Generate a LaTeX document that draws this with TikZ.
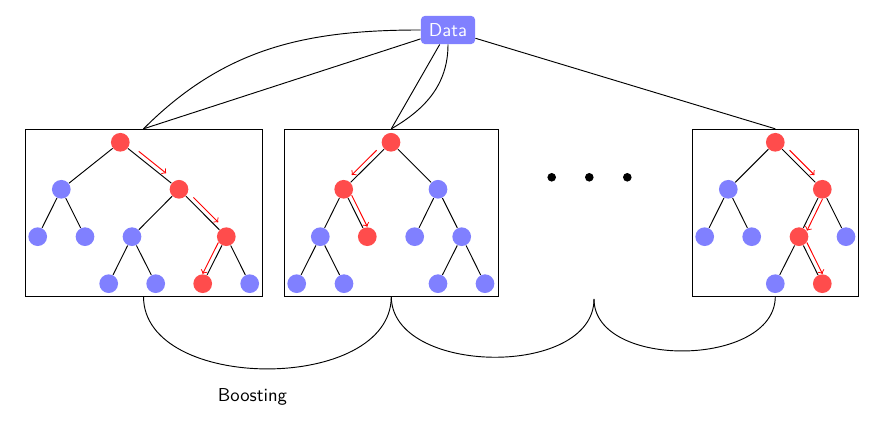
\documentclass[tikz,border=0pt]{standalone}
\usetikzlibrary{calc,fit}
\begin{document}
\begin{tikzpicture}[x=0.535pt,y=0.535pt,line width=0.5pt,
  bn/.style={circle,fill=blue!50,inner sep=0pt,minimum size=10pt},
  rn/.style={circle,fill=red!70,inner sep=0pt,minimum size=10pt},
  dotn/.style={circle,fill=black,inner sep=0pt,minimum size=4.6pt},
  treebox/.style={draw,rectangle,inner sep=0pt},
  redarrow/.style={->,red,line width=0.5pt},
  datanode/.style={rectangle,rounded corners=2pt,fill=blue!50,text=white,font=\sffamily,minimum width=28.9pt,minimum height=15pt,inner sep=0pt}]
\useasboundingbox (0,0) rectangle (895,424);
\newcommand\redarr[3]{\draw[redarrow] ($(#1)!.5!(#2)!9.4pt!(#1) + (#1)!2.4pt!#3:(#2) - (#1)$) -- ($(#1)!.5!(#2)!9.4pt!(#2) + (#1)!2.4pt!#3:(#2) - (#1)$);}
% boxes
\coordinate (b1sw) at (25,128); \coordinate (b1ne) at (262,294.7);
\coordinate (b2sw) at (284.3,128); \coordinate (b2ne) at (498.3,294.7);
\coordinate (b3sw) at (692.3,128); \coordinate (b3ne) at (858.3,294.7);
\node[treebox,fit=(b1sw)(b1ne)] (box1) {};
\node[treebox,fit=(b2sw)(b2ne)] (box2) {};
\node[treebox,fit=(b3sw)(b3ne)] (box3) {};
% data
\node[datanode] (data) at (448,394) {Data};
% tree 1
\node[rn] (t1r) at (120.3,281.7) {};
\node[bn] (t1a) at (61.3,234.7) {};
\node[rn] (t1b) at (179,234.7) {};
\node[bn] (t1aa) at (37.7,187.3) {};
\node[bn] (t1ab) at (85,187.3) {};
\node[bn] (t1ba) at (132,187.3) {};
\node[rn] (t1bb) at (226.3,187.3) {};
\node[bn] (t1baa) at (108.7,140.3) {};
\node[bn] (t1bab) at (155.7,140.3) {};
\node[rn] (t1bba) at (202.7,140.3) {};
\node[bn] (t1bbb) at (249.7,140.3) {};
\draw (t1r)--(t1a) (t1r)--(t1b) (t1a)--(t1aa) (t1a)--(t1ab) (t1b)--(t1ba) (t1b)--(t1bb)
      (t1ba)--(t1baa) (t1ba)--(t1bab) (t1bb)--(t1bba) (t1bb)--(t1bbb);
\redarr{t1r}{t1b}{90}
\redarr{t1b}{t1bb}{90}
\redarr{t1bb}{t1bba}{-90}
% tree 2
\node[rn] (t2r) at (391,281.7) {};
\node[rn] (t2a) at (343.7,234.7) {};
\node[bn] (t2b) at (438,234.7) {};
\node[bn] (t2aa) at (320.3,187.3) {};
\node[rn] (t2ab) at (367.3,187.3) {};
\node[bn] (t2ba) at (414.7,187.3) {};
\node[bn] (t2bb) at (461.7,187.3) {};
\node[bn] (t2aaa) at (296.7,140.3) {};
\node[bn] (t2aab) at (344,140.3) {};
\node[bn] (t2bba) at (438,140.3) {};
\node[bn] (t2bbb) at (485,140.3) {};
\draw (t2r)--(t2a) (t2r)--(t2b) (t2a)--(t2aa) (t2a)--(t2ab) (t2b)--(t2ba) (t2b)--(t2bb)
      (t2aa)--(t2aaa) (t2aa)--(t2aab) (t2bb)--(t2bba) (t2bb)--(t2bbb);
\redarr{t2r}{t2a}{-90}
\redarr{t2a}{t2ab}{90}
% tree 3
\node[rn] (t3r) at (775.3,281.7) {};
\node[bn] (t3a) at (728.3,234.7) {};
\node[rn] (t3b) at (822.3,234.7) {};
\node[bn] (t3aa) at (704.7,187.3) {};
\node[bn] (t3ab) at (751.7,187.3) {};
\node[rn] (t3ba) at (799,187.3) {};
\node[bn] (t3bb) at (846,187.3) {};
\node[bn] (t3baa) at (775.3,140.3) {};
\node[rn] (t3bab) at (822.3,140.3) {};
\draw (t3r)--(t3a) (t3r)--(t3b) (t3a)--(t3aa) (t3a)--(t3ab) (t3b)--(t3ba) (t3b)--(t3bb)
      (t3ba)--(t3baa) (t3ba)--(t3bab);
\redarr{t3r}{t3b}{90}
\redarr{t3b}{t3ba}{90}
\redarr{t3ba}{t3bab}{90}
% dots
\node[dotn] (d1) at (551.7,246.7) {};
\node[dotn] (d2) at (589.3,246.7) {};
\node[dotn] (d3) at (627.3,246.7) {};
\coordinate (j) at (594,125);
% data connectors
\draw (box1.north) to[out=45,in=180] (data.west);
\draw (box1.north) -- (data);
\draw (box2.north) -- (data);
\draw (box2.north) to[out=30,in=-90] (data.south);
\draw (data) -- (box3.north);
% boosting curves
\draw (box1.south) to[out=-90,in=-90] (box2.south);
\draw (box2.south) to[out=-90,in=-90] (j);
\draw (j) to[out=-90,in=-90] (box3.south);
\node[font=\sffamily,anchor=base] (boost) at (252.5,22.3) {Boosting};
\end{tikzpicture}
\end{document}
